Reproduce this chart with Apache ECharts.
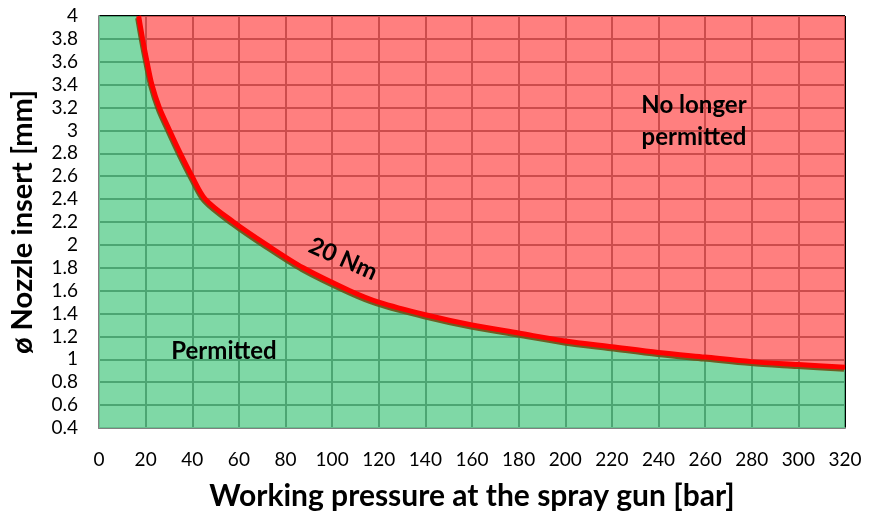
<!DOCTYPE html>
<html>
<head>
<meta charset="utf-8">
<script src="https://cdn.jsdelivr.net/npm/echarts@6/dist/echarts.min.js"></script>
<style>
  html, body { margin: 0; padding: 0; background: #fff; }
  #chartBox { width: 870px; height: 517px; }
</style>
</head>
<body>
<div id="chartBox"></div>
<script>
// pressure [bar] along the 20 Nm limit curve
var pressure = [17, 18.7, 20.6, 22.7, 25.9, 30.3, 34.9, 39.9, 45.6, 57.7, 72, 87.6, 107.6, 120, 140, 160, 180, 200, 220, 240, 260, 280, 300, 320];
// nozzle diameter [mm] at each pressure
var diameter = [4, 3.8, 3.6, 3.4, 3.2, 3.0, 2.8, 2.6, 2.4, 2.2, 2.0, 1.8, 1.6, 1.5, 1.39, 1.30, 1.23, 1.16, 1.11, 1.06, 1.02, 0.98, 0.955, 0.93];
// axis ranges
var xTicks = { min: 0, max: 320, step: 20 };
var yTicks = { min: 0.4, max: 4, step: 0.2 };

var fontName = 'Lato, "Open Sans", sans-serif';

var curve = pressure.map(function (p, i) { return [p, diameter[i]]; });
// green zone: everything left of / below the curve
var permitted = [[xTicks.min, yTicks.max]].concat(curve);

var myChart = echarts.init(document.getElementById('chartBox'));
myChart.setOption({
    animation: false,
    grid: { left: 98, right: 25, top: 16, bottom: 89 },
    xAxis: {
        type: 'value',
        min: xTicks.min, max: xTicks.max, interval: xTicks.step,
        name: 'Working pressure at the spray gun [bar]',
        nameLocation: 'middle', nameGap: 53,
        nameTextStyle: { fontFamily: fontName, fontWeight: 'bold', fontSize: 30, color: '#000' },
        axisLine: { show: true, onZero: false, lineStyle: { color: '#808080', width: 2 } },
        axisTick: { show: false },
        axisLabel: { fontFamily: fontName, fontSize: 19, color: '#000', margin: 22 },
        splitLine: { show: true, lineStyle: { color: '#000', width: 2 } }
    },
    yAxis: {
        type: 'value',
        min: yTicks.min, max: yTicks.max, interval: yTicks.step,
        name: 'ø Nozzle insert [mm]',
        nameLocation: 'middle', nameGap: 62,
        nameTextStyle: { fontFamily: fontName, fontWeight: 'bold', fontSize: 29, color: '#000' },
        axisLine: { show: true, lineStyle: { color: '#808080', width: 2 } },
        axisTick: { show: false },
        axisLabel: {
            fontFamily: fontName, fontSize: 19, color: '#000', margin: 21,
            formatter: function (v) { return String(Math.round(v * 10) / 10); }
        },
        splitLine: { show: true, lineStyle: { color: '#000', width: 2 } }
    },
    series: [
        {
            name: 'Permitted',
            type: 'line',
            data: permitted,
            symbol: 'none',
            silent: true,
            lineStyle: { width: 0 },
            areaStyle: { color: '#5fce90', opacity: 0.8, origin: 'start' },
            z: 2
        },
        {
            name: 'No longer permitted',
            type: 'line',
            data: curve,
            symbol: 'none',
            smooth: 0.3,
            silent: true,
            lineStyle: { width: 0 },
            areaStyle: { color: '#ff5f5f', opacity: 0.8, origin: 'end' },
            z: 2
        },
        {
            name: '20 Nm',
            type: 'line',
            data: curve,
            symbol: 'none',
            smooth: 0.3,
            lineStyle: {
                color: '#ff0000', width: 5,
                shadowColor: 'rgba(110,80,20,0.9)', shadowOffsetX: -1, shadowOffsetY: 2, shadowBlur: 0
            },
            z: 5
        }
    ],
    graphic: [
        {
            type: 'text', x: 224, y: 351, z: 10,
            style: {
                text: 'Permitted', font: 'bold 24px ' + fontName, fill: '#000',
                align: 'center', verticalAlign: 'middle'
            }
        },
        {
            type: 'text', x: 694, y: 121, z: 10,
            style: {
                text: 'No longer\npermitted', font: 'bold 24px ' + fontName, fill: '#000',
                align: 'center', verticalAlign: 'middle', lineHeight: 32
            }
        },
        {
            type: 'text', x: 343, y: 259, z: 10, rotation: -24 * Math.PI / 180,
            style: {
                text: '20 Nm', font: 'bold 24px ' + fontName, fill: '#000',
                align: 'center', verticalAlign: 'middle'
            }
        }
    ]
});
</script>
</body>
</html>
